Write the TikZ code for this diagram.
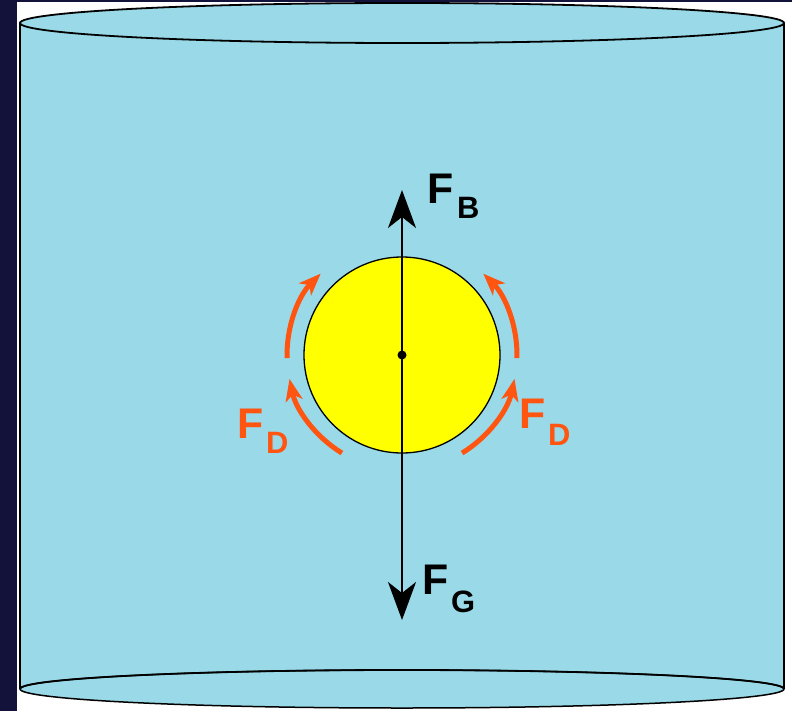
\documentclass[tikz,border=0pt]{standalone}
\usepackage{fontspec}
\setmainfont{Liberation Sans}
\usetikzlibrary{arrows.meta}
\definecolor{navy}{HTML}{12123A}
\definecolor{water}{HTML}{99D9E8}
\definecolor{ball}{HTML}{FFFF00}
\definecolor{drag}{HTML}{FF5511}
\tikzset{
  lbl/.style={inner sep=0pt, anchor=base west, font=\fontsize{43}{43}\selectfont\bfseries},
  subl/.style={inner sep=0pt, anchor=base west, font=\fontsize{31}{31}\selectfont\bfseries},
  force/.style={line width=2bp, -{Stealth[length=38bp,width=28bp,inset=11bp]}},
  dragarrow/.style={draw=drag, line width=5bp, -{Stealth[length=22bp,width=17bp,inset=6bp]}},
  rim/.style={line width=1.8bp, draw=black},
}
\begin{document}
\begin{tikzpicture}[x=1bp,y=-1bp]
\useasboundingbox (0,0) rectangle (792,711);
\fill[navy] (0,0) rectangle (792,711);
\fill[white] (17,2.5) rectangle (792,711);
% cylinder
\fill[water] (20,23) rectangle (784,689);
\fill[water] (402,23) ellipse [x radius=382, y radius=20];
\fill[water] (402,689) ellipse [x radius=382, y radius=19];
\draw[rim] (20,23) -- (20,689);
\draw[rim] (784,23) -- (784,689);
\draw[rim] (402,23) ellipse [x radius=382, y radius=20];
\draw[line width=1.5bp] (402,689) ellipse [x radius=382, y radius=19];
\draw[rim] (20,689) arc[start angle=180, end angle=0, x radius=382, y radius=-19];
% sphere
\node[circle, draw, line width=1.3bp, fill=ball, minimum size=196bp, inner sep=0pt] (s) at (402,355) {};
\coordinate (top) at (402,190);
\coordinate (bot) at (402,620);
\draw[force] (s.center) -- (top);
\draw[force] (s.center) -- (bot);
\fill (s.center) circle (4.5);
% drag arrows
\draw[dragarrow] (402,355) ++(178.5:115) arc[start angle=178.5, end angle=225, radius=115];
\draw[dragarrow] (402,355) ++(121.5:115) arc[start angle=121.5, end angle=168, radius=115];
\draw[dragarrow] (402,355) ++(1.5:115) arc[start angle=1.5, end angle=-45, radius=115];
\draw[dragarrow] (402,355) ++(58.5:115) arc[start angle=58.5, end angle=12, radius=115];
% labels
\node[lbl] (fb) at (427,203) {F};
\node[subl] (fbs) at (457,218) {B};
\node[lbl] (fg) at (422,594) {F};
\node[subl] (fgs) at (451,612) {G};
\node[lbl, text=drag] (fd1) at (237,438) {F};
\node[subl, text=drag] (fd1s) at (266,453) {D};
\node[lbl, text=drag] (fd2) at (519,428) {F};
\node[subl, text=drag] (fd2s) at (548,445) {D};
\end{tikzpicture}
\end{document}
